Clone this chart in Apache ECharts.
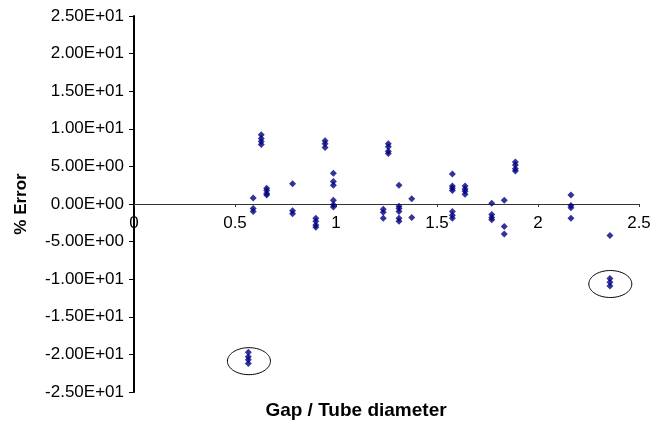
<!DOCTYPE html>
<html>
<head>
<meta charset="utf-8">
<script src="https://cdn.jsdelivr.net/npm/echarts@6/dist/echarts.min.js"></script>
<style>
html,body{margin:0;padding:0;background:#fff;}
#chart{width:656px;height:428px;}
</style>
</head>
<body>
<div id="chart"></div>
<script>
// Gap / tube diameter ratio of each measurement
const gapRatio = [
  0.566, 0.566, 0.566, 0.566,
  0.59, 0.59, 0.59,
  0.63, 0.63, 0.63, 0.63,
  0.657, 0.657, 0.657, 0.657,
  0.785, 0.785, 0.785,
  0.90, 0.90, 0.90, 0.90,
  0.946, 0.946, 0.946,
  0.987, 0.987, 0.987, 0.987, 0.987, 0.987,
  1.234, 1.234, 1.234,
  1.259, 1.259, 1.259, 1.259,
  1.312, 1.312, 1.312, 1.312, 1.312, 1.312,
  1.375, 1.375,
  1.576, 1.576, 1.576, 1.576, 1.576, 1.576, 1.576,
  1.639, 1.639, 1.639, 1.639,
  1.771, 1.771, 1.771, 1.771,
  1.833, 1.833, 1.833,
  1.888, 1.888, 1.888, 1.888,
  2.163, 2.163, 2.163, 2.163,
  2.356,
  2.356, 2.356, 2.356
];
// % error of each measurement
const percentError = [
  -19.7, -20.3, -20.7, -21.2,
  0.8, -0.6, -1.0,
  9.2, 8.7, 8.3, 7.9,
  2.1, 1.8, 1.4, 1.2,
  2.7, -0.9, -1.3,
  -1.9, -2.3, -2.8, -3.1,
  8.4, 8.0, 7.5,
  4.1, 3.0, 2.5, 0.5, -0.1, -0.4,
  -0.7, -1.1, -1.9,
  8.0, 7.6, 7.0, 6.7,
  2.5, -0.3, -0.6, -1.0, -1.9, -2.3,
  0.7, -1.8,
  4.0, 2.4, 2.1, 1.8, -1.0, -1.5, -1.9,
  2.4, 2.0, 1.7, 1.3,
  0.1, -1.4, -1.8, -2.1,
  0.5, -3.0, -4.0,
  5.6, 5.2, 4.7, 4.4,
  1.2, -0.2, -0.5, -1.9,
  -4.2,
  -9.9, -10.4, -10.9
];
// Circled outlier groups (centres)
const circledGap = [0.569, 2.358];
const circledError = [-20.9, -10.64];

const xTicks = [0, 0.5, 1, 1.5, 2, 2.5];
const yTicks = [-25, -20, -15, -10, -5, 0, 5, 10, 15, 20, 25];

function sci(v) {
  if (v === 0) return '0.00E+00';
  const e = Math.floor(Math.log10(Math.abs(v)) + 1e-9);
  const m = v / Math.pow(10, e);
  return m.toFixed(2) + 'E' + (e < 0 ? '-' : '+') + String(Math.abs(e)).padStart(2, '0');
}

const points = gapRatio.map((g, i) => [g, percentError[i]]);
const circles = circledGap.map((g, i) => [g, circledError[i]]);

const chart = echarts.init(document.getElementById('chart'), null, {renderer: 'canvas'});
const font = 'Liberation Sans, Arial, sans-serif';
chart.setOption({
  animation: false,
  backgroundColor: '#fff',
  grid: {left: 134, right: 17, top: 16, bottom: 36, containLabel: false},
  xAxis: {
    type: 'value',
    min: xTicks[0], max: xTicks[xTicks.length - 1], interval: 0.5,
    axisLine: {onZero: true, lineStyle: {color: '#333', width: 1}},
    axisTick: {show: true, length: 3, lineStyle: {color: '#333'}},
    axisLabel: {color: '#000', fontFamily: font, fontSize: 17, margin: -177,
      formatter: v => String(v)},
    splitLine: {show: false}
  },
  yAxis: {
    type: 'value',
    min: yTicks[0], max: yTicks[yTicks.length - 1], interval: 5,
    name: '% Error', nameLocation: 'middle', nameGap: 104,
    nameTextStyle: {color: '#000', fontFamily: font, fontSize: 17, fontWeight: 'bold'},
    axisLine: {show: true, onZero: false, lineStyle: {color: '#000', width: 2}},
    axisTick: {show: true, length: 5, lineStyle: {color: '#000'}},
    axisLabel: {color: '#000', fontFamily: font, fontSize: 17, margin: 10, formatter: sci},
    splitLine: {show: false}
  },
  graphic: [{
    type: 'text', x: 356, y: 411,
    style: {text: 'Gap / Tube diameter', fill: '#000', font: 'bold 19px ' + font,
      textAlign: 'center', textVerticalAlign: 'middle'}
  }],
  series: [{
    type: 'scatter',
    data: points,
    symbol: 'diamond',
    symbolSize: 7,
    itemStyle: {color: '#000080'},
    z: 3
  }, {
    type: 'custom',
    data: circles,
    renderItem: function (params, api) {
      const c = api.coord([api.value(0), api.value(1)]);
      const rx = 21.5, ry = 13.5, pts = [];
      for (let k = 0; k < 72; k++) {
        const a = k / 72 * Math.PI * 2;
        pts.push([c[0] + rx * Math.cos(a), c[1] + ry * Math.sin(a)]);
      }
      return {type: 'polygon', shape: {points: pts},
        style: {fill: 'none', stroke: '#000', lineWidth: 1}};
    },
    z: 2
  }]
});
</script>
</body>
</html>
